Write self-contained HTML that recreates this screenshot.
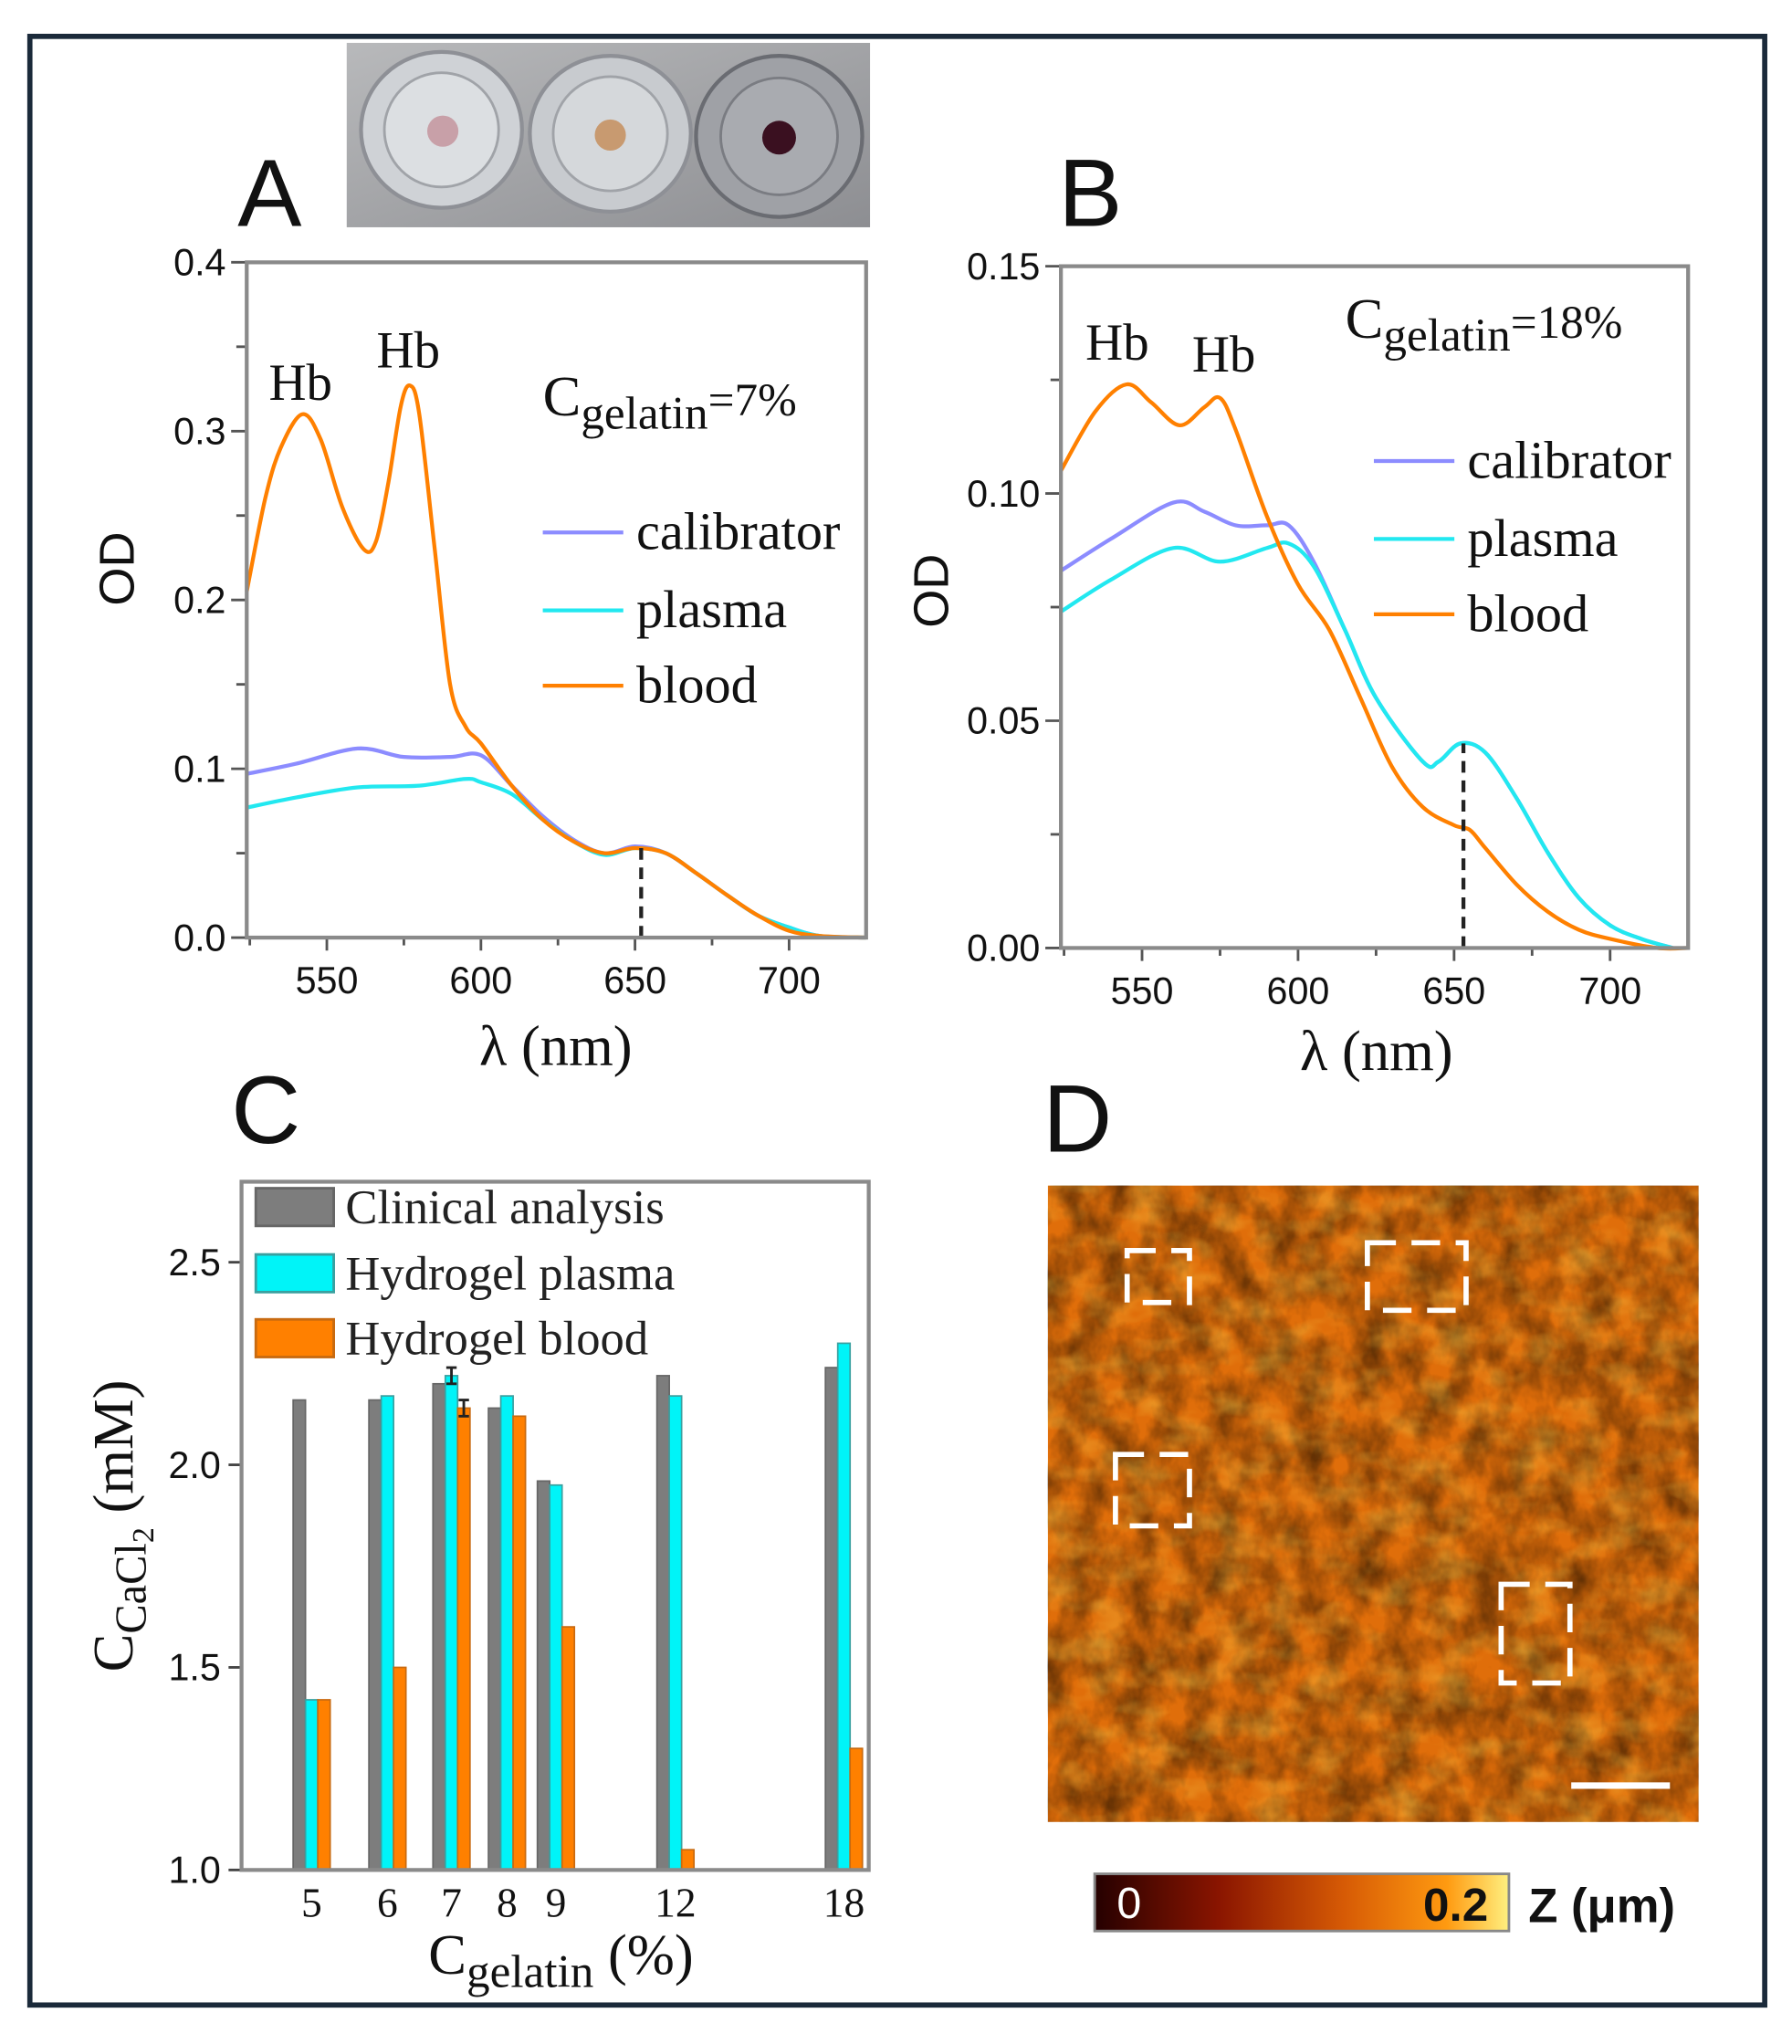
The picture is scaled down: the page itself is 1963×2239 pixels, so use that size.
<!DOCTYPE html>
<html><head><meta charset="utf-8">
<style>
html,body{margin:0;padding:0;background:#fff;}
svg{display:block;}
.sans{font-family:"Liberation Sans",sans-serif;}
.serif{font-family:"Liberation Serif",serif;}
</style></head>
<body>
<svg id="fig" width="1963" height="2239" viewBox="0 0 1380 1574" xmlns="http://www.w3.org/2000/svg">
<defs>
<filter id="afm" x="0" y="0" width="100%" height="100%">
<feTurbulence type="fractalNoise" baseFrequency="0.045 0.03" numOctaves="4" seed="7" result="n"/>
<feColorMatrix in="n" type="matrix" values="0 0 0 0 0  0 0 0 0 0  0 0 0 0 0  1.7 0 0 0 -0.5" result="a"/>
</filter>
<filter id="afm2" x="0" y="0" width="100%" height="100%">
<feTurbulence type="fractalNoise" baseFrequency="0.03 0.05" numOctaves="3" seed="21" result="n"/>
<feColorMatrix in="n" type="matrix" values="0 0 0 0 1  0 0 0 0 0.75  0 0 0 0 0.1  1.6 0 0 0 -0.7"/>
</filter>
<linearGradient id="cbar" x1="0" x2="1" y1="0" y2="0">
<stop offset="0" stop-color="#250000"/><stop offset="0.3" stop-color="#8a1500"/>
<stop offset="0.6" stop-color="#d65a05"/><stop offset="0.85" stop-color="#ff9a10"/><stop offset="1" stop-color="#fff080"/>
</linearGradient>
<linearGradient id="photoBg" x1="0" x2="1" y1="0" y2="1">
<stop offset="0" stop-color="#b8b9bb"/><stop offset="1" stop-color="#8d8e92"/>
</linearGradient>
</defs>
<rect x="23" y="28" width="1336" height="1516" fill="#fff" stroke="#1b2a3a" stroke-width="4"/>
<g id="photo">
<rect x="267" y="33" width="403" height="142" fill="url(#photoBg)"/>
<ellipse cx="340" cy="100" rx="62" ry="60" fill="#cfd2d6" stroke="#8e9096" stroke-width="3"/>
<ellipse cx="340" cy="100" rx="44" ry="44" fill="#dcdfe2" stroke="#a0a3a8" stroke-width="2"/>
<circle cx="341" cy="101" r="12" fill="#c8a0a8"/>
<ellipse cx="470" cy="103" rx="62" ry="60" fill="#c8cbcf" stroke="#8e9096" stroke-width="3"/>
<ellipse cx="470" cy="103" rx="44" ry="44" fill="#d5d8db" stroke="#a0a3a8" stroke-width="2"/>
<circle cx="470" cy="104" r="12" fill="#c89a70"/>
<ellipse cx="600" cy="105" rx="64" ry="62" fill="#9fa1a6" stroke="#6a6c72" stroke-width="3"/>
<ellipse cx="600" cy="105" rx="45" ry="45" fill="#a9abb0" stroke="#7a7c82" stroke-width="2"/>
<circle cx="600" cy="106" r="13" fill="#3a1020"/>
</g>
<g id="panelA"></g>
<g id="panelB"></g>
<g id="panelC"></g>
<g id="panelD"></g>
</svg>
<script>
// ---- Panel A data ----
const aWl = [524,530,535,542,548,555,562,566,570,574,577,580,585,590,595,600,610,620,630,640,650,660,670,680,690,700,710,725];
const aBlood = [0.205,0.26,0.29,0.31,0.295,0.255,0.23,0.235,0.27,0.315,0.327,0.31,0.23,0.15,0.125,0.115,0.09,0.07,0.057,0.05,0.053,0.05,0.038,0.025,0.013,0.004,0.001,0];
const aCalWl = [524,540,560,575,590,600,610,620,630,640,650,660,670,680,690,700,710,725];
const aCal = [0.097,0.103,0.112,0.107,0.107,0.108,0.09,0.072,0.058,0.05,0.054,0.05,0.038,0.025,0.013,0.006,0.001,0];
const aPlaWl = [524,540,560,580,595,600,610,620,630,640,650,660,670,680,690,700,710,725];
const aPla = [0.077,0.083,0.089,0.09,0.094,0.092,0.085,0.07,0.057,0.049,0.053,0.05,0.038,0.025,0.013,0.006,0.001,0];
const aXTicks = [550,600,650,700];
const aYTicks = [0.0,0.1,0.2,0.3,0.4];
const aYLabels = ["0.0","0.1","0.2","0.3","0.4"];
const aDash = [652,0.053];
// ---- Panel B data ----
const bBloodWl = [524,535,545,553,562,570,575,580,590,600,610,620,630,640,650,655,660,670,680,690,700,715,725];
const bBlood = [0.105,0.118,0.124,0.12,0.115,0.119,0.121,0.114,0.095,0.08,0.07,0.055,0.04,0.031,0.027,0.026,0.022,0.014,0.008,0.004,0.002,0.0,0];
const bCalWl = [524,540,560,570,580,590,597,605,615,625,640,645,652,660,670,680,690,700,710,720];
const bCal = [0.083,0.09,0.098,0.096,0.093,0.093,0.093,0.085,0.07,0.055,0.041,0.041,0.045,0.043,0.033,0.021,0.011,0.005,0.002,0];
const bPlaWl = [524,540,560,575,590,597,605,615,625,640,645,652,660,670,680,690,700,710,720];
const bPla = [0.074,0.081,0.088,0.085,0.088,0.089,0.084,0.07,0.055,0.041,0.041,0.045,0.043,0.033,0.021,0.011,0.005,0.002,0];
const bXTicks = [550,600,650,700];
const bYTicks = [0,0.05,0.10,0.15];
const bYLabels = ["0.00","0.05","0.10","0.15"];
const bDash = [653,0.045];
// ---- Panel C data ----
const cCats = [5,6,7,8,9,12,18];
const cCatLabels = ["5","6","7","8","9","12","18"];
const cClinical = [2.16,2.16,2.20,2.14,1.96,2.22,2.24];
const cPlasma = [1.42,2.17,2.22,2.17,1.95,2.17,2.30];
const cBlood = [1.42,1.50,2.14,2.12,1.60,1.05,1.30];
const cYTicks = [1.0,1.5,2.0,2.5];
const cYLabels = ["1.0","1.5","2.0","2.5"];

const NS = "http://www.w3.org/2000/svg";
function mk(parent, tag, attrs, text){
  const e = document.createElementNS(NS, tag);
  for (const k in attrs) e.setAttribute(k, attrs[k]);
  if (text !== undefined) e.textContent = text;
  parent.appendChild(e);
  return e;
}
function lin(d0,d1,r0,r1){ return v => r0 + (v-d0)/(d1-d0)*(r1-r0); }
function smooth(pts){
  let d = "M"+pts[0][0].toFixed(1)+","+pts[0][1].toFixed(1);
  for (let i=0;i<pts.length-1;i++){
    const p0=pts[Math.max(0,i-1)],p1=pts[i],p2=pts[i+1],p3=pts[Math.min(pts.length-1,i+2)];
    const c1=[p1[0]+(p2[0]-p0[0])/6,p1[1]+(p2[1]-p0[1])/6];
    const c2=[p2[0]-(p3[0]-p1[0])/6,p2[1]-(p3[1]-p1[1])/6];
    d+=" C"+c1.map(v=>v.toFixed(1)).join(",")+" "+c2.map(v=>v.toFixed(1)).join(",")+" "+p2[0].toFixed(1)+","+p2[1].toFixed(1);
  }
  return d;
}

function spectrumPanel(g, P, series, xt, yt, yl, dash){
  const x = lin(P.x0v,P.x1v,P.x0,P.x1), y = lin(0,P.ymax,P.y1,P.y0);
  for (let i=0;i<yt.length-1;i++){
    const t = mk(g,"line",{x1:P.x0-8,x2:P.x0,y1:(y(yt[i])+y(yt[i+1]))/2,y2:(y(yt[i])+y(yt[i+1]))/2,stroke:"#555","stroke-width":2});
    
    
  }
  yt.forEach((v,i)=>{
    const t = mk(g,"line",{x1:P.x0-12,x2:P.x0,y1:y(v),y2:y(v),stroke:"#555","stroke-width":2});
    
    
    const l = mk(g,"text",{x:P.x0-16,y:y(v)+10,"text-anchor":"end","font-size":29,class:"sans",fill:"#111"},yl[i]);
    
    
  });
  xt.forEach(v=>{
    const t = mk(g,"line",{x1:x(v),x2:x(v),y1:P.y1,y2:P.y1+10,stroke:"#555","stroke-width":2});
    
    
    const m = mk(g,"line",{x1:x(v-25),x2:x(v-25),y1:P.y1,y2:P.y1+6,stroke:"#555","stroke-width":2});
    
    
    const l = mk(g,"text",{x:x(v),y:P.y1+43,"text-anchor":"middle","font-size":29,class:"sans",fill:"#111"},String(v));
    
    
  });
  series.forEach(s=>{
    const d = smooth(s.wl.map((w,i)=>[x(w),y(s.v[i])]));
    const p = mk(g,"path",{d:d,fill:"none",stroke:s.color,"stroke-width":3});
    
    
  });
  const dl = mk(g,"line",{x1:x(dash[0]),x2:x(dash[0]),y1:y(0),y2:y(dash[1]),stroke:"#222","stroke-width":3,"stroke-dasharray":"9,6"});
  
  
  const fr = mk(g,"rect",{x:P.x0,y:P.y0,width:P.x1-P.x0,height:P.y1-P.y0,fill:"none",stroke:"#8a8a8a","stroke-width":3});
  
  
}

// Panel A
(function(){
  const g = document.getElementById('panelA');
  
  
  spectrumPanel(g,{x0:190,x1:667,y0:202,y1:722,x0v:524,x1v:725,ymax:0.4},
   [{name:'calibrator',wl:aCalWl,v:aCal,color:'#8c8cff'},{name:'plasma',wl:aPlaWl,v:aPla,color:'#22e8f0'},{name:'blood',wl:aWl,v:aBlood,color:'#ff8000'}],
   aXTicks,aYTicks,aYLabels,aDash);
  const t = [
   ['panel-a-label','A',183,174,74,'sans'],
   ['hb-label-1','Hb',207,308,40,'serif'],
   ['hb-label-2','Hb',290,283,40,'serif'],
  ];
  t.forEach(a=>{const e=mk(g,"text",{x:a[2],y:a[3],"font-size":a[4],class:a[5],fill:"#111"},a[1]);});
  const c = mk(g,"text",{x:418,y:320,"font-size":44,class:"serif",fill:"#111"});
  
  
  c.innerHTML='C<tspan font-size="36" dy="10">gelatin</tspan><tspan font-size="36" dy="-10">=7%</tspan>';
  const lg=[['calibrator','#8c8cff',410],['plasma','#22e8f0',470],['blood','#ff8000',528]];
  lg.forEach(l=>{
    const ln=mk(g,"line",{x1:418,x2:480,y1:l[2],y2:l[2],stroke:l[1],"stroke-width":3});
    
    
    const tx=mk(g,"text",{x:490,y:l[2]+13,"font-size":41,class:"serif",fill:"#111"},l[0]);
    
    
  });
  const ya=mk(g,"text",{x:0,y:0,"font-size":38,class:"sans",fill:"#111",transform:"translate(103,438) rotate(-90)","text-anchor":"middle"},"OD");
  
  
  const xa=mk(g,"text",{x:428,y:820,"font-size":44,class:"serif",fill:"#111","text-anchor":"middle"},"λ (nm)");
  
  
})();

// Panel B
(function(){
  const g = document.getElementById('panelB');
  
  
  spectrumPanel(g,{x0:817,x1:1300,y0:205,y1:730,x0v:524,x1v:725,ymax:0.15},
   [{name:'calibrator',wl:bCalWl,v:bCal,color:'#8c8cff'},{name:'plasma',wl:bPlaWl,v:bPla,color:'#22e8f0'},{name:'blood',wl:bBloodWl,v:bBlood,color:'#ff8000'}],
   bXTicks,bYTicks,bYLabels,bDash);
  const t = [
   ['panel-b-label','B',815,174,74,'sans'],
   ['hb-label-1','Hb',836,277,40,'serif'],
   ['hb-label-2','Hb',918,286,40,'serif'],
  ];
  t.forEach(a=>{const e=mk(g,"text",{x:a[2],y:a[3],"font-size":a[4],class:a[5],fill:"#111"},a[1]);});
  const c = mk(g,"text",{x:1036,y:260,"font-size":44,class:"serif",fill:"#111"});
  
  
  c.innerHTML='C<tspan font-size="36" dy="10">gelatin</tspan><tspan font-size="36" dy="-10">=18%</tspan>';
  const lg=[['calibrator','#8c8cff',355],['plasma','#22e8f0',415],['blood','#ff8000',473]];
  lg.forEach(l=>{
    const ln=mk(g,"line",{x1:1058,x2:1120,y1:l[2],y2:l[2],stroke:l[1],"stroke-width":3});
    
    
    const tx=mk(g,"text",{x:1130,y:l[2]+13,"font-size":41,class:"serif",fill:"#111"},l[0]);
    
    
  });
  const ya=mk(g,"text",{x:0,y:0,"font-size":38,class:"sans",fill:"#111",transform:"translate(730,455) rotate(-90)","text-anchor":"middle"},"OD");
  
  
  const xa=mk(g,"text",{x:1060,y:824,"font-size":44,class:"serif",fill:"#111","text-anchor":"middle"},"λ (nm)");
  
  
})();

// Panel C
(function(){
  const g = document.getElementById('panelC');
  
  
  const X0=186,X1=669,Y0=910,Y1=1440;
  const y = lin(1.0,2.0,1440,1128);
  const x = v => 240 + 320*(Math.log(v)-Math.log(5));
  const bw = 9.5;
  const lab=mk(g,"text",{x:178,y:880,"font-size":74,class:"sans",fill:"#111"},"C");
  
  
  cYTicks.forEach((v,i)=>{
    const t=mk(g,"line",{x1:X0-10,x2:X0,y1:y(v),y2:y(v),stroke:"#444","stroke-width":2});
    
    
    const l=mk(g,"text",{x:X0-16,y:y(v)+10,"text-anchor":"end","font-size":29,class:"sans",fill:"#111"},cYLabels[i]);
    
    
  });
  const ser=[['clinical',cClinical,'#7d7d7d','#666',-1],['plasma',cPlasma,'#00f4f8','#3aa0a0',0],['blood',cBlood,'#ff8000','#c86a10',1]];
  cCats.forEach((c,i)=>{
    ser.forEach(s=>{
      const cx=x(c)+s[4]*bw;
      const r=mk(g,"rect",{x:cx-bw/2,y:y(s[1][i]),width:bw,height:y(1.0)-y(s[1][i]),fill:s[2],stroke:s[3],"stroke-width":1.2});
      
      
    });
    const l=mk(g,"text",{x:x(c),y:1476,"text-anchor":"middle","font-size":32,class:"serif",fill:"#111"},cCatLabels[i]);
    
    
  });
  [[0,2.22,0.02],[1,2.14,0.02]].forEach(e=>{
    const cx=x(7)+e[0]*bw;
    const eb=mk(g,"path",{d:`M${cx},${y(e[1]+e[2])} V${y(e[1]-e[2])} M${cx-4},${y(e[1]+e[2])} H${cx+4} M${cx-4},${y(e[1]-e[2])} H${cx+4}`,stroke:"#222","stroke-width":2,fill:"none"});
    
    
  });
  const fr=mk(g,"rect",{x:X0,y:Y0,width:X1-X0,height:Y1-Y0,fill:"none",stroke:"#8a8a8a","stroke-width":3});
  
  
  const lg=[['Clinical analysis','#7d7d7d','#666',930],['Hydrogel plasma','#00f4f8','#3aa0a0',981],['Hydrogel blood','#ff8000','#c86a10',1031]];
  lg.forEach(l=>{
    const r=mk(g,"rect",{x:197,y:l[3]-15,width:60,height:29,fill:l[1],stroke:l[2],"stroke-width":2});
    
    
    const t=mk(g,"text",{x:266,y:l[3]+12,"font-size":37,class:"serif",fill:"#222"},l[0]);
    
    
  });
  const ya=mk(g,"text",{x:0,y:0,"font-size":44,class:"serif",fill:"#111",transform:"translate(102,1175) rotate(-90)","text-anchor":"middle"});
  
  
  ya.innerHTML='C<tspan font-size="34" dy="10">CaCl</tspan><tspan font-size="24" dy="6">2</tspan><tspan font-size="44" dy="-16"> (mM)</tspan>';
  const xa=mk(g,"text",{x:432,y:1520,"font-size":44,class:"serif",fill:"#111","text-anchor":"middle"});
  
  
  xa.innerHTML='C<tspan font-size="36" dy="10">gelatin</tspan><tspan font-size="44" dy="-10"> (%)</tspan>';
})();

// Panel D
(function(){
  const g = document.getElementById('panelD');
  
  
  const lab=mk(g,"text",{x:803,y:887,"font-size":74,class:"sans",fill:"#111"},"D");
  
  
  const bg=mk(g,"rect",{x:807,y:913,width:501,height:490,fill:"#e06e0a"});
  
  
  const tx=mk(g,"rect",{x:807,y:913,width:501,height:490,fill:"#7a2a00",filter:"url(#afm)",opacity:0.55});
  
  
  const tx2=mk(g,"rect",{x:807,y:913,width:501,height:490,fill:"#ffb020",filter:"url(#afm2)",opacity:0.5});
  
  
  const boxes=[[868,963,48,40],[1053,957,76,52],[859,1120,57,55],[1156,1220,53,76]];
  boxes.forEach(b=>{
    const r=mk(g,"rect",{x:b[0],y:b[1],width:b[2],height:b[3],fill:"none",stroke:"#fff","stroke-width":4,"stroke-dasharray":"22,12"});
    
    
  });
  const sb=mk(g,"line",{x1:1210,x2:1286,y1:1375,y2:1375,stroke:"#fff","stroke-width":5});
  
  
  const cb=mk(g,"rect",{x:843,y:1443,width:319,height:44,fill:"url(#cbar)",stroke:"#888","stroke-width":2});
  
  
  const t0=mk(g,"text",{x:860,y:1477,"font-size":34,class:"sans",fill:"#fff"},"0");
  
  
  const t1=mk(g,"text",{x:1096,y:1479,"font-size":36,class:"sans","font-weight":"bold",fill:"#111"},"0.2");
  
  
  const tz=mk(g,"text",{x:1177,y:1480,"font-size":37,class:"sans","font-weight":"bold",fill:"#111"},"Z (μm)");
  
  
})();
</script>
</body></html>
